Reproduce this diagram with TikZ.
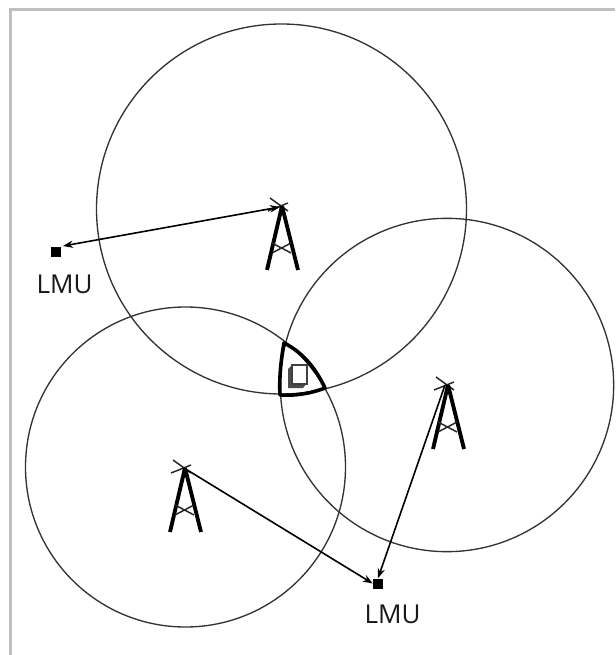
\documentclass[tikz,border=0pt]{standalone}
\usepackage{fontspec}
\setmainfont{Open Sans}
\usetikzlibrary{arrows.meta}
\tikzset{
  px/.style={x=0.75pt,y=-0.75pt},
  >={Stealth[length=7.5pt,width=5.5pt]},
  cell/.style={draw=black!80,line width=1pt},
  link/.style={draw=black,line width=1.2pt},
  lmu/.style={fill=black,draw=none,minimum size=7.5pt,inner sep=0pt},
  lbl/.style={font=\fontsize{19.5pt}{22pt}\selectfont,text=black!90,inner sep=0pt},
  leg/.style={line width=2.9pt,black},
  brace/.style={line width=1.1pt,black!85},
}
\newcommand{\mast}[2]{%
  \begin{scope}[shift={(#1,#2)}]
    \draw[brace] (-12,-8) -- (6,5);
    \draw[brace] (-14,5) -- (6,-3);
    \draw[leg] (0,0) -- (-15,64);
    \draw[leg] (0,0) -- (16,64);
    \draw[brace] (-10,47) -- (9,37) (9,47) -- (-10,37);
  \end{scope}}
\begin{document}
\begin{tikzpicture}[px]
\useasboundingbox (0,0) rectangle (615,655);
\fill[white] (0,0) rectangle (615,655);
\draw[black!25,line width=2.25pt] (10.5,655) -- (10.5,9.5) -- (615,9.5);
\node[circle,cell,minimum size=277.5pt,inner sep=0pt] (c1) at (281.5,209) {};
\node[circle,cell,minimum size=250pt,inner sep=0pt] (c2) at (447,385) {};
\node[circle,cell,minimum size=240pt,inner sep=0pt] (c3) at (185.5,467) {};
\mast{282}{206}
\mast{448}{385}
\mast{185}{468}
\coordinate (t1) at (280,207);
\coordinate (t2) at (445,385);
\coordinate (t3) at (184,468);
\coordinate (e1) at (63,246);
\node[lmu] (l1) at (55.5,252) {};
\node[lmu] (l2) at (378,583.5) {};
\node[lbl] (n1) at (64.5,284) {LMU};
\node[lbl] (n2) at (392.5,614) {LMU};
\draw[link,<->] (e1) -- (t1);
\draw[link,->] (t3) -- (l2.west);
\draw[link,->] (t2) -- (l2.north);
\draw[line width=2.7pt,black,line join=round] (284,343)
  .. controls (281,360) and (279,378) .. (280,395)
  .. controls (297,396) and (312,393) .. (325,388)
  .. controls (315,367) and (302,352) .. (284,343) -- cycle;
\fill[black!70] (288,369) -- (292,365) -- (307,383) -- (303,388) -- (288,388) -- cycle;
\draw[black!75,line width=0.9pt,fill=white] (292,365) rectangle (307,384);
\end{tikzpicture}
\end{document}
